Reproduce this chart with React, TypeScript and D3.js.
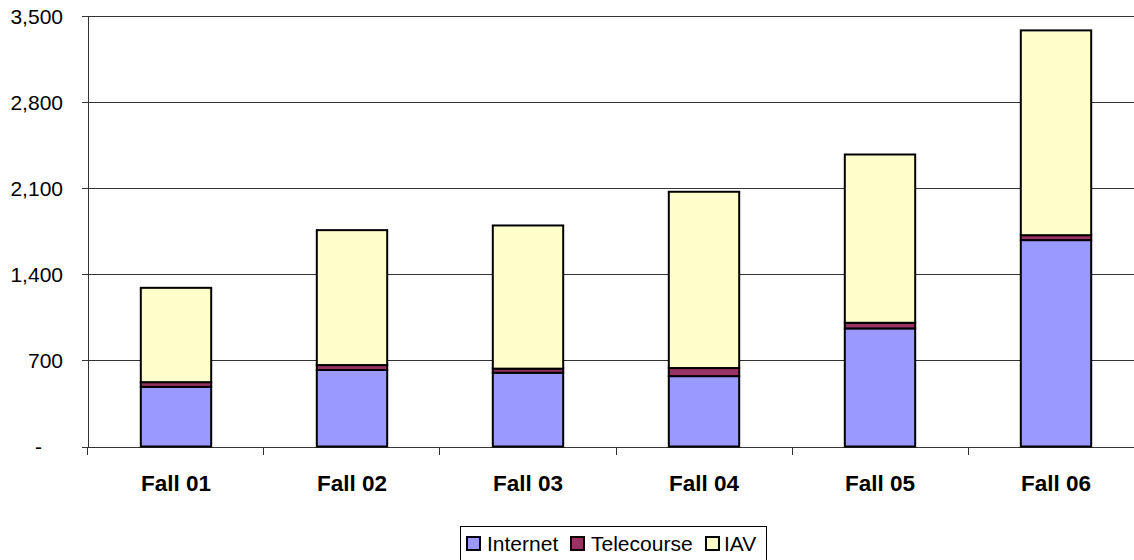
import { useEffect, useRef } from 'react'
import * as d3 from 'd3'

const categories = ['Fall 01', 'Fall 02', 'Fall 03', 'Fall 04', 'Fall 05', 'Fall 06']
const internet = [485, 622, 600, 572, 960, 1678]
const telecourse = [38, 40, 33, 66, 46, 40]
const iav = [767, 1097, 1164, 1433, 1368, 1665]
const seriesNames = ['Internet', 'Telecourse', 'IAV']
const seriesColors = ['#9999ff', '#993366', '#ffffcc']
const yTicks = [0, 700, 1400, 2100, 2800, 3500]

const W = 1134
const H = 560
const FONT = 'Arial, "Liberation Sans", Helvetica, sans-serif'

export default function App() {
  const ref = useRef<SVGSVGElement | null>(null)

  useEffect(() => {
    if (!ref.current) {return}
    document.body.style.margin = '0'
    const svg = d3.select(ref.current)
    svg.selectAll('*').remove()

    const left = 88
    const right = 1144
    const top = 16
    const bottom = 446.5

    const rows = categories.map((c, i) => ({ cat: c, Internet: internet[i], Telecourse: telecourse[i], IAV: iav[i] }))
    const stack = d3.stack<any>().keys(seriesNames)(rows)

    const x = d3.scaleBand<string>().domain(categories).range([left, right]).paddingInner(0.6).paddingOuter(0.3)
    const y = d3.scaleLinear().domain([0, 3500]).range([bottom, top])
    const color = d3.scaleOrdinal<string>().domain(seriesNames).range(seriesColors)

    const g = svg.append('g')

    // gridlines
    g.selectAll('line.grid')
      .data(yTicks.filter((t) => t > 0))
      .join('line')
      .attr('x1', left)
      .attr('x2', right)
      .attr('y1', (d) => Math.round(y(d)) + 0.5)
      .attr('y2', (d) => Math.round(y(d)) + 0.5)
      .attr('stroke', '#333')
      .attr('stroke-width', 1)
      .attr('shape-rendering', 'crispEdges')

    // y axis
    g.append('line')
      .attr('x1', left + 0.5).attr('x2', left + 0.5)
      .attr('y1', top).attr('y2', bottom)
      .attr('stroke', '#333')
      .attr('shape-rendering', 'crispEdges')

    g.selectAll('line.ytick')
      .data(yTicks)
      .join('line')
      .attr('x1', left - 6)
      .attr('x2', left)
      .attr('y1', (d) => Math.round(y(d)) + 0.5)
      .attr('y2', (d) => Math.round(y(d)) + 0.5)
      .attr('stroke', '#333')
      .attr('shape-rendering', 'crispEdges')

    // accounting style: zero shows as a dash set in from the right
    g.selectAll('text.ylab')
      .data(yTicks)
      .join('text')
      .attr('x', (d) => (d === 0 ? 42 : 63))
      .attr('y', (d) => y(d) + 7.5)
      .attr('text-anchor', 'end')
      .attr('font-family', FONT)
      .attr('font-size', 21)
      .attr('fill', '#000')
      .text((d) => (d === 0 ? '-' : d3.format(',')(d)))

    // x axis
    g.append('line')
      .attr('x1', left).attr('x2', right)
      .attr('y1', Math.round(bottom) + 0.5).attr('y2', Math.round(bottom) + 0.5)
      .attr('stroke', '#333')
      .attr('shape-rendering', 'crispEdges')

    const xTickPos = categories.map((c) => x(c)! - x.step() * x.paddingInner() / 2 - 0.5)
    xTickPos.push(right)
    g.selectAll('line.xtick')
      .data(xTickPos)
      .join('line')
      .attr('x1', (d) => Math.round(d) + 0.5)
      .attr('x2', (d) => Math.round(d) + 0.5)
      .attr('y1', bottom)
      .attr('y2', bottom + 8)
      .attr('stroke', '#333')
      .attr('shape-rendering', 'crispEdges')

    g.selectAll('text.xlab')
      .data(categories)
      .join('text')
      .attr('x', (d) => x(d)! + x.bandwidth() / 2)
      .attr('y', 491)
      .attr('text-anchor', 'middle')
      .attr('font-family', FONT)
      .attr('font-weight', 'bold')
      .attr('font-size', 22.5)
      .attr('fill', '#000')
      .text((d) => d)

    // bars
    stack.forEach((s) => {
      g.append('g')
        .selectAll('rect')
        .data(s)
        .join('rect')
        .attr('x', (d) => x(d.data.cat)!)
        .attr('width', x.bandwidth())
        .attr('y', (d) => y(d[1]))
        .attr('height', (d) => y(d[0]) - y(d[1]))
        .attr('fill', color(s.key))
        .attr('stroke', '#000')
        .attr('stroke-width', 2)
    })

    // legend
    const lg = svg.append('g')
    lg.append('rect')
      .attr('x', 460.5).attr('y', 526.5)
      .attr('width', 306).attr('height', 40)
      .attr('fill', '#fff')
      .attr('stroke', '#000')
    const items = [
      { name: 'Internet', sx: 467, tx: 487 },
      { name: 'Telecourse', sx: 571, tx: 591 },
      { name: 'IAV', sx: 706, tx: 724 },
    ]
    items.forEach((it) => {
      lg.append('rect')
        .attr('x', it.sx).attr('y', 537)
        .attr('width', 13).attr('height', 13)
        .attr('fill', color(it.name))
        .attr('stroke', '#000')
        .attr('stroke-width', 2)
      lg.append('text')
        .attr('x', it.tx).attr('y', 551)
        .attr('font-family', FONT)
        .attr('font-size', 21)
        .attr('fill', '#000')
        .text(it.name)
    })
  }, [])

  return <svg ref={ref} width={W} height={H} style={{ display: 'block', background: '#fff' }} />
}
